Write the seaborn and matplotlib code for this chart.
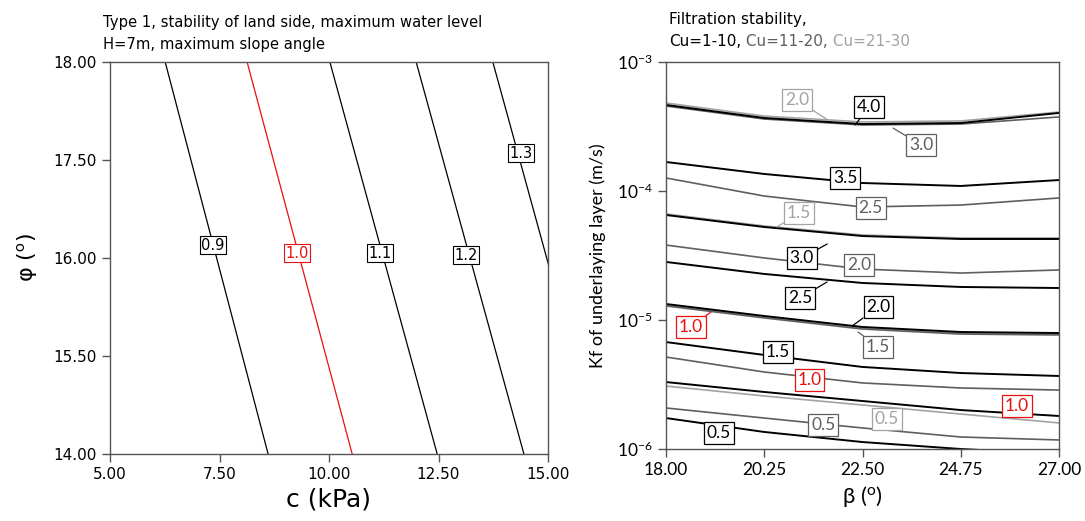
import numpy as np
import matplotlib
matplotlib.use("Agg")
import matplotlib.pyplot as plt
import seaborn as sns

# ---------------- Left panel data (c in kPa, phi in degrees) ----------------
left_levels = ["0.9", "1.0", "1.1", "1.2", "1.3"]
left_colors = ["black", "#e81010", "black", "black", "black"]
phi_ends = [18.0, 14.0]
c_at_phi18 = [6.26, 8.13, 10.02, 11.99, 13.74]
c_at_phi14 = [8.61, 10.53, 12.47, 14.45, 16.20]
left_label_c = [7.35, 9.27, 11.16, 13.13, 14.38]
left_label_phi = [16.13, 16.05, 16.05, 16.03, 17.07]
left_xticks = [5.0, 7.5, 10.0, 12.5, 15.0]
left_xticklabels = ["5.00", "7.50", "10.00", "12.50", "15.00"]
left_yticks = [14.0, 15.0, 16.0, 17.0, 18.0]
left_yticklabels = ["14.00", "15.50", "16.00", "17.50", "18.00"]

# ---------------- Right panel data (beta in degrees, log10 Kf) ----------------
beta = [18.0, 20.25, 22.5, 24.75, 27.0]
# Cu = 1-10 (black)
cu1_40 = [-3.333, -3.434, -3.481, -3.473, -3.395]
cu1_35 = [-3.775, -3.868, -3.938, -3.961, -3.915]
cu1_30 = [-4.186, -4.279, -4.349, -4.372, -4.372]
cu1_25 = [-4.550, -4.643, -4.713, -4.744, -4.752]
cu1_20 = [-4.876, -4.969, -5.054, -5.093, -5.101]
cu1_15 = [-5.171, -5.271, -5.364, -5.411, -5.434]
cu1_10 = [-5.481, -5.558, -5.628, -5.698, -5.744]
cu1_05 = [-5.760, -5.868, -5.946, -6.000, -6.039]
# Cu = 11-20 (dark grey)
cu2_30 = [-3.341, -3.442, -3.488, -3.481, -3.426]
cu2_25 = [-3.899, -4.039, -4.124, -4.109, -4.054]
cu2_20 = [-4.419, -4.519, -4.605, -4.636, -4.612]
cu2_15 = [-4.891, -4.984, -5.070, -5.109, -5.116]
cu2_10 = [-5.287, -5.403, -5.488, -5.527, -5.543]
cu2_05 = [-5.682, -5.760, -5.837, -5.907, -5.930]
# Cu = 21-30 (light grey)
cu3_20 = [-3.318, -3.419, -3.465, -3.457, -3.388]
cu3_15 = [-4.178, -4.271, -4.341, -4.364, -4.364]
cu3_10 = [-4.884, -4.977, -5.062, -5.101, -5.109]
cu3_05 = [-5.512, -5.589, -5.659, -5.729, -5.798]

right_xticks = [18.0, 20.25, 22.5, 24.75, 27.0]
right_xticklabels = ["18.00", "20.25", "22.50", "24.75", "27.00"]

BLACK = "#000000"
DGREY = "#5f5f5f"
LGREY = "#a3a3a3"
RED = "#e81010"

# (text, colour, label beta, label log10 Kf, leader beta, leader log10 Kf)
right_labels = [
    ("2.0", LGREY, 21.00, -3.295, 21.71, -3.450),
    ("4.0", BLACK, 22.65, -3.349, 22.33, -3.488),
    ("3.0", DGREY, 23.84, -3.643, 23.20, -3.512),
    ("3.5", BLACK, 22.10, -3.899, None, None),
    ("2.5", DGREY, 22.69, -4.132, None, None),
    ("1.5", LGREY, 21.05, -4.171, 20.54, -4.279),
    ("3.0", BLACK, 21.11, -4.519, 21.69, -4.411),
    ("2.0", DGREY, 22.42, -4.574, None, None),
    ("2.5", BLACK, 21.07, -4.829, 21.69, -4.705),
    ("2.0", BLACK, 22.86, -4.899, 22.26, -5.047),
    ("1.5", DGREY, 22.86, -5.209, 22.40, -5.093),
    ("1.0", RED, 18.57, -5.054, 19.03, -4.938),
    ("1.5", BLACK, 20.57, -5.248, None, None),
    ("1.0", RED, 21.28, -5.465, None, None),
    ("1.0", RED, 26.04, -5.667, None, None),
    ("0.5", LGREY, 23.06, -5.767, None, None),
    ("0.5", DGREY, 21.60, -5.814, None, None),
    ("0.5", BLACK, 19.21, -5.876, None, None),
]

sns.set_style("white")
plt.rcParams["font.family"] = ["DejaVu Sans"]
plt.rcParams["mathtext.fontset"] = "custom"
plt.rcParams["mathtext.rm"] = "Lato"
plt.rcParams["mathtext.it"] = "Lato:italic"
plt.rcParams["text.color"] = "black"
plt.rcParams["axes.labelcolor"] = "black"
plt.rcParams["xtick.color"] = "black"
plt.rcParams["ytick.color"] = "black"

fig = plt.figure(figsize=(10.85, 5.21), dpi=100)
ax1 = fig.add_axes([110 / 1085, 1 - 454 / 521, 438 / 1085, 392 / 521])
ax2 = fig.add_axes([666 / 1085, 1 - 449 / 521, 393 / 1085, 387 / 521])

SPINE = "#555555"
for ax in (ax1, ax2):
    for s in ax.spines.values():
        s.set_color(SPINE)
        s.set_linewidth(1.0)
    ax.tick_params(direction="out", length=6, width=1, color=SPINE,
                   labelcolor="black", left=True, bottom=True, top=False, right=False)

# ---------------- Left panel ----------------
for lvl, col, ct, cb in zip(left_levels, left_colors, c_at_phi18, c_at_phi14):
    sns.lineplot(x=[ct, cb], y=phi_ends, ax=ax1, color=col, linewidth=0.9,
                 estimator=None, sort=False, legend=False)
for lvl, col, lc, lp in zip(left_levels, left_colors, left_label_c, left_label_phi):
    ax1.text(lc, lp, lvl, color=col, fontsize=10.5, ha="center", va="center", zorder=5,
             bbox=dict(boxstyle="square,pad=0.1", fc="white", ec=col, lw=0.8))
ax1.set_xlim(5, 15)
ax1.set_ylim(14, 18)
ax1.set_xticks(left_xticks)
ax1.set_xticklabels(left_xticklabels, fontsize=11)
ax1.set_yticks(left_yticks)
ax1.set_yticklabels(left_yticklabels, fontsize=11)
ax1.set_xlabel("c (kPa)", fontsize=18, labelpad=4)
ax1.set_ylabel(r"φ ($^{\mathrm{o}}$)", fontsize=16, labelpad=10)

# ---------------- Right panel ----------------
series = [
    (LGREY, 1.2, [cu3_20, cu3_15, cu3_10, cu3_05]),
    (DGREY, 1.2, [cu2_30, cu2_25, cu2_20, cu2_15, cu2_10, cu2_05]),
    (BLACK, 1.4, [cu1_40, cu1_35, cu1_30, cu1_25, cu1_20, cu1_15, cu1_10, cu1_05]),
]
for col, lw, curves in series:
    for cv in curves:
        sns.lineplot(x=beta, y=10.0 ** np.array(cv), ax=ax2, color=col,
                     linewidth=lw, estimator=None, sort=False, legend=False)

for txt, col, lb, lk, tb, tk in right_labels:
    bbox = dict(boxstyle="square,pad=0.15", fc="white", ec=col, lw=0.9)
    if tb is None:
        ax2.text(lb, 10.0 ** lk, txt, color=col, fontsize=12.5, family="Lato",
                 ha="center", va="center", zorder=5, bbox=bbox)
    else:
        ax2.annotate(txt, xy=(tb, 10.0 ** tk), xytext=(lb, 10.0 ** lk),
                     color=col, fontsize=12.5, family="Lato", ha="center",
                     va="center", zorder=5, bbox=bbox,
                     arrowprops=dict(arrowstyle="-", color=col, lw=0.9,
                                     shrinkA=0, shrinkB=0))

ax2.set_yscale("log")
ax2.set_xlim(18, 27)
ax2.set_ylim(1e-6, 1e-3)
ax2.set_xticks(right_xticks)
ax2.set_xticklabels(right_xticklabels, fontsize=12.5, family="Lato")
ax2.set_yticks([1e-6, 1e-5, 1e-4, 1e-3])
ax2.set_yticklabels([r"$10^{-6}$", r"$10^{-5}$", r"$10^{-4}$", r"$10^{-3}$"], fontsize=12.5)
ax2.minorticks_off()
ax2.set_xlabel(r"β ($^{\mathrm{o}}$)", fontsize=16, family="Lato", labelpad=4)
ax2.set_ylabel("Kf of underlaying layer (m/s)", fontsize=13, family="Lato", labelpad=8)

# ---------------- Titles ----------------
fig.text(103 / 1085, 1 - 27 / 521, "Type 1, stability of land side, maximum water level",
         fontsize=10.6, ha="left", va="baseline")
fig.text(103 / 1085, 1 - 49 / 521, "H=7m, maximum slope angle",
         fontsize=10.6, ha="left", va="baseline")
fig.text(669 / 1085, 1 - 24 / 521, "Filtration stability,",
         fontsize=11, ha="left", va="baseline")
t1 = fig.text(669 / 1085, 1 - 46 / 521, "Cu=1-10,", fontsize=11,
              ha="left", va="baseline", color=BLACK)
t2 = fig.text(0, 0, " Cu=11-20,", fontsize=11, ha="left", va="baseline", color=DGREY)
fig.canvas.draw()
r = fig.canvas.get_renderer()
bb1 = t1.get_window_extent(r)
t2.set_position((bb1.x1 / fig.bbox.width, 1 - 46 / 521))
fig.canvas.draw()
bb2 = t2.get_window_extent(r)
fig.text(bb2.x1 / fig.bbox.width, 1 - 46 / 521, " Cu=21-30", fontsize=11,
         ha="left", va="baseline", color=LGREY)

fig.savefig("out.png", dpi=100)
